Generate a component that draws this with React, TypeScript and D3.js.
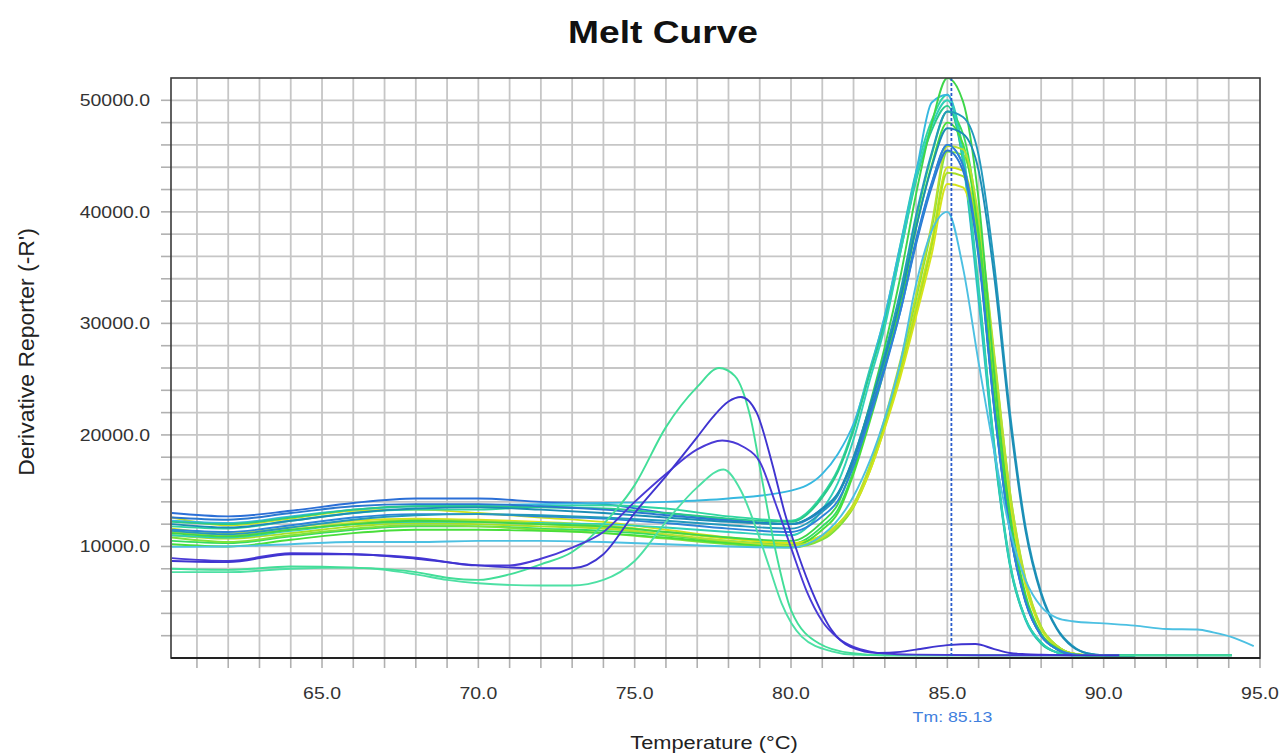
import React, { useEffect, useRef } from 'react';
import * as d3 from 'd3';

// temperature grid shared by the main-product wells (deg C)
const temps = [60.2, 62, 64, 66, 68, 70, 72, 74, 76, 78, 80, 81, 81.5, 82, 82.5, 83, 83.5, 84, 84.5, 85,
  85.5, 86, 86.5, 87, 87.5, 88, 88.5, 89, 89.5, 90, 91, 94.1];

// -R' per well (null = trace already ended)
const wellA1 = [13000, 12700, 13200, 13900, 14300, 14300, 14000, 13800, 13000, 12400, 12000,
  13400, 14700, 17800, 21900, 26300, 31400, 37500, 42600, 46000,
  44200, 36300, 22500, 11500, 5100, 2000, 800, 350, 250, 250, 250, null];
const wellA2 = [12600, 11900, 12500, 13200, 13300, 13000, 12600, 12200, 11500, 10800, 10300,
  11000, 12000, 13800, 16900, 21100, 25900, 31500, 37400, 44000,
  43700, 37800, 26100, 14400, 6800, 2700, 1100, 400, 250, 250, 250, null];
const wellA3 = [11200, 10900, 11500, 12000, 12300, 12200, 12000, 11800, 11300, 10800, 10500,
  12200, 13800, 17600, 22500, 27900, 34200, 41600, 47900, 52000,
  49900, 41100, 25500, 13000, 5700, 2200, 900, 350, 250, 250, 250, 250];
const wellA4 = [11800, 11600, 12300, 13000, 13300, 13300, 13600, 13700, 13400, 12700, 12300,
  14600, 16900, 20700, 25700, 30600, 37100, 43600, 48200, 50500,
  45500, 33300, 19200, 8600, 3500, 1400, 500, 250, 250, 250, 250, null];
const wellA5 = [11000, 10700, 11200, 11800, 12100, 12000, 11800, 11600, 11000, 10400, 10000,
  10700, 11700, 13500, 16600, 20700, 25500, 31000, 36900, 43500,
  43200, 37400, 25800, 14200, 6700, 2700, 1100, 400, 250, 250, 250, null];
const wellA6 = [12000, 11700, 12300, 13000, 13400, 13500, 13300, 13000, 12600, 12200, 12000,
  13400, 14800, 18000, 22300, 26900, 32200, 38600, 44000, 47500,
  47000, 43700, 34200, 21400, 11400, 5700, 2600, 1000, 400, 250, 250, null];
const wellB1 = [11400, 11100, 11700, 12400, 12800, 12900, 12800, 12600, 12300, 11900, 11600,
  13100, 14600, 18000, 22400, 27300, 32900, 39700, 45300, 49000,
  48500, 45100, 35300, 22100, 11800, 5900, 2700, 1100, 400, 250, 250, null];
const wellB2 = [10500, 10300, 10900, 11500, 11800, 11800, 11600, 11400, 11000, 10500, 10200,
  11800, 13300, 16800, 21500, 26500, 32300, 39300, 45100, 49000,
  47000, 38700, 24000, 12300, 5400, 2100, 800, 300, 250, 250, 250, null];
const wellB3 = [10800, 10400, 11000, 11600, 11900, 11800, 11500, 11200, 10700, 10200, 9900,
  10600, 11700, 13600, 16900, 21200, 26400, 32200, 38500, 45400,
  45100, 39100, 27000, 14900, 7000, 2800, 1100, 400, 250, 250, 250, null];
const wellB4 = [12300, 12100, 12700, 13300, 13600, 13700, 13800, 13900, 14000, 14300, 15000,
  16500, 18300, 21000, 25500, 30700, 37000, 43500, 49800, 50500,
  44500, 32000, 18500, 8300, 3400, 1300, 500, 250, 250, 250, 250, null];
const wellB5 = [11500, 11300, 11900, 12600, 12900, 12900, 12700, 12500, 12100, 11600, 11300,
  12700, 14100, 17200, 21400, 25900, 31100, 37300, 42500, 46000,
  44200, 36300, 22500, 11500, 5100, 2000, 800, 350, 250, 250, 250, 250];
const wellB6 = [12200, 12000, 12600, 13300, 13600, 13600, 13500, 13400, 13000, 12500, 12200,
  14400, 16700, 20400, 25300, 30100, 36400, 42800, 47300, 49500,
  44600, 32700, 18800, 8400, 3500, 1300, 500, 250, 250, 250, 250, null];
const wellC1 = [11600, 11200, 11700, 12300, 12500, 12400, 12200, 11900, 11300, 10700, 10300,
  11000, 12000, 13600, 16600, 20600, 25200, 30600, 36200, 42500,
  42200, 36500, 25200, 13900, 6500, 2600, 1000, 400, 250, 250, 250, null];
const wellC2 = [10200, 10000, 10600, 11200, 11500, 11500, 11400, 11200, 10800, 10300, 10000,
  11500, 13000, 16500, 21000, 26000, 31700, 38500, 44200, 48000,
  46100, 37900, 23500, 12000, 5300, 2100, 800, 300, 250, 250, 250, null];
const wellC3 = [11000, 10800, 11400, 12000, 12200, 12200, 12100, 12000, 11700, 11300, 11000,
  13300, 15700, 19600, 24700, 29700, 36400, 43000, 47700, 50000,
  45000, 33000, 19000, 8500, 3500, 1400, 500, 250, 250, 250, 250, null];
const wellC4 = [12600, 12400, 13000, 13600, 13800, 13800, 13600, 13300, 12800, 12300, 12000,
  13300, 14700, 17700, 21700, 26100, 31100, 37100, 42200, 45500,
  43700, 35900, 22300, 11400, 5000, 2000, 800, 300, 250, 250, 250, null];
const wellC5 = [11300, 11000, 11500, 12100, 12400, 12300, 12000, 11700, 11100, 10500, 10100,
  10800, 11900, 13800, 17100, 21500, 26700, 32600, 38900, 45900,
  45600, 39500, 27300, 15000, 7100, 2800, 1100, 400, 250, 250, 250, null];

const mainWells = [
  { id: 'A1', color: '#2b6fd6', values: wellA1 },
  { id: 'A2', color: '#cfe01c', values: wellA2 },
  { id: 'A4', color: '#2fd6a0', values: wellA4 },
  { id: 'A5', color: '#a6e024', values: wellA5 },
  { id: 'B4', color: '#36b8e0', values: wellB4 },
  { id: 'B2', color: '#35dc60', values: wellB2 },
  { id: 'B3', color: '#7ee23a', values: wellB3 },
  { id: 'B6', color: '#29c98a', values: wellB6 },
  { id: 'C1', color: '#d6e31a', values: wellC1 },
  { id: 'C3', color: '#30d0b8', values: wellC3 },
  { id: 'C2', color: '#48de3a', values: wellC2 },
  { id: 'C5', color: '#b8e030', values: wellC5 },
  { id: 'A3', color: '#3ed64a', values: wellA3 },
  { id: 'C4', color: '#2a78d0', values: wellC4 },
  { id: 'B5', color: '#2c84d8', values: wellB5 },
  { id: 'B1', color: '#2399bd', values: wellB1 },
  { id: 'A6', color: '#1b8db5', values: wellA6 },
];

// wells read as [temperature, -R'] pairs
const tailWell = [[60.2, 9960], [62, 10000], [64, 10200], [66, 10400], [68, 10400], [70, 10500], [72, 10500],
  [74, 10400], [76, 10200], [78, 10000], [80, 9900], [81, 11000], [82, 14500], [83, 21500], [83.5, 26500],
  [84, 33500], [84.5, 38300], [85, 40000], [85.5, 35000], [86, 26500], [86.5, 18500], [87, 11500], [87.5, 7000],
  [88, 4600], [88.5, 3600], [89, 3300], [90, 3100], [91, 2900], [92, 2600], [93, 2550], [93.5, 2300],
  [94.1, 1880], [94.8, 1070]];

const violetLow = [[60.2, 8950], [62, 8700], [64, 9400], [66, 9300], [68, 9000], [70, 8300], [71, 8300],
  [72, 8900], [73, 9900], [74, 11300], [75, 14000], [76, 16500], [77, 18700], [77.8, 19500], [78.5, 18900],
  [79, 17600], [79.5, 13900], [80, 9900], [80.5, 6000], [81, 3300], [81.5, 1800], [82, 1000], [82.5, 600],
  [83, 400], [84, 300], [86, 250], [89, 250]];
const violetTall = [[60.2, 8700], [62, 8600], [64, 9300], [66, 9300], [68, 8900], [70, 8300], [72, 8050],
  [73, 8050], [74, 9300], [75, 13000], [76, 16300], [77, 19800], [77.5, 21600], [78, 23000], [78.4, 23400],
  [78.9, 22000], [79.4, 17400], [79.8, 13000], [80.25, 9100], [80.7, 5800], [81.3, 2500], [81.9, 1000],
  [82.8, 450], [83.5, 550], [84, 750], [85, 1150], [85.9, 1250], [86.5, 800], [87, 450], [87.5, 350],
  [88, 300], [89, 250], [90.5, 250]];
const greenTall = [[60.2, 8000], [62, 7900], [64, 8200], [66, 8100], [68, 7700], [69, 7200], [70, 7000],
  [71, 7500], [72, 8400], [73, 9500], [74, 12000], [75, 15500], [76, 20700], [77, 24300], [77.7, 26000],
  [78.2, 25300], [78.7, 21600], [79.1, 15600], [79.5, 9700], [80, 4300], [80.9, 1300], [81.9, 450],
  [83, 250], [94.1, 250]];
const greenLow = [[60.2, 7700], [62, 7700], [64, 8000], [66, 8100], [68, 7500], [69, 7000], [70, 6700],
  [72, 6500], [73, 6500], [74, 7000], [75, 8700], [76, 12200], [77, 15300], [77.84, 16900], [78.4, 15000],
  [78.9, 11500], [79.3, 8200], [79.7, 4900], [80.35, 1900], [81.3, 600], [82, 300], [83, 250], [90, 250]];

const pairWells = [
  { id: 'D1', color: '#4cc0e2', points: tailWell },
  { id: 'D2', color: '#4de0a4', points: greenLow },
  { id: 'D3', color: '#42de98', points: greenTall },
  { id: 'D4', color: '#4a3ad6', points: violetLow },
  { id: 'D5', color: '#3f34d0', points: violetTall },
];

const xTicks = [65, 70, 75, 80, 85, 90, 95];
const yTicks = [10000, 20000, 30000, 40000, 50000];
const tm = 85.13;

const FONT = 'Liberation Sans, Arial, Helvetica, sans-serif';
const SX = 1.18; // text in the source image is a little wider than tall

const App = () => {
  const svgRef = useRef(null);

  useEffect(() => {
    drawChart();
  }, []);

  const drawChart = () => {
    const svg = d3.select(svgRef.current);
    svg.selectAll('*').remove();

    const left = 171, right = 1260, top = 78, bottom = 658;
    const x = d3.scaleLinear().domain([60.17, 95]).range([left, right]);
    const y = d3.scaleLinear().domain([0, 52000]).range([bottom, top]);

    svg.append('rect').attr('width', 1287).attr('height', 755).attr('fill', '#ffffff');

    // grid
    const grid = svg.append('g').attr('stroke', '#c6c6c6').attr('stroke-width', 1.8);
    d3.range(61, 95).forEach(t => {
      grid.append('line').attr('x1', x(t)).attr('x2', x(t)).attr('y1', top).attr('y2', bottom);
    });
    d3.range(2000, 52000, 2000).forEach(v => {
      grid.append('line').attr('x1', left).attr('x2', right).attr('y1', y(v)).attr('y2', y(v));
    });

    // tick marks
    const ticks = svg.append('g').attr('stroke', '#b0b0b0').attr('stroke-width', 1.6);
    d3.range(61, 96).forEach(t => {
      ticks.append('line').attr('x1', x(t)).attr('x2', x(t)).attr('y1', bottom).attr('y2', bottom + 10);
    });
    d3.range(2000, 52000, 2000).forEach(v => {
      ticks.append('line').attr('x1', left - 10).attr('x2', left).attr('y1', y(v)).attr('y2', y(v));
    });

    svg.append('clipPath').attr('id', 'plot-clip')
      .append('rect').attr('x', left).attr('y', top).attr('width', right - left).attr('height', bottom - top);

    const line = d3.line()
      .defined(d => d[1] != null)
      .x(d => x(d[0]))
      .y(d => y(d[1]))
      .curve(d3.curveMonotoneX);

    const curves = svg.append('g').attr('clip-path', 'url(#plot-clip)')
      .attr('fill', 'none').attr('stroke-width', 1.9).attr('stroke-linejoin', 'round');

    mainWells.forEach(w => {
      curves.append('path')
        .attr('d', line(temps.map((t, i) => [t, w.values[i]])))
        .attr('stroke', w.color);
    });
    pairWells.forEach(w => {
      curves.append('path').attr('d', line(w.points)).attr('stroke', w.color);
    });

    // Tm marker
    svg.append('line')
      .attr('x1', x(tm)).attr('x2', x(tm)).attr('y1', top).attr('y2', bottom)
      .attr('stroke', '#2a5ccc').attr('stroke-width', 1.8).attr('stroke-dasharray', '3,2');

    // frame
    svg.append('rect')
      .attr('x', left).attr('y', top).attr('width', right - left).attr('height', bottom - top)
      .attr('fill', 'none').attr('stroke', '#3a3a3a').attr('stroke-width', 1.6);
    svg.append('line').attr('x1', left).attr('x2', right).attr('y1', bottom).attr('y2', bottom)
      .attr('stroke', '#222').attr('stroke-width', 2.2);

    const text = (str, tx, ty, size, opts = {}) => {
      const sy = opts.sy || 1;
      return svg.append('text')
        .attr('transform', `translate(${tx},${ty}) scale(${SX},${sy})${opts.rotate ? ' rotate(-90)' : ''}`)
        .attr('text-anchor', opts.anchor || 'middle')
        .attr('font-family', FONT)
        .attr('font-size', size)
        .attr('font-weight', opts.bold ? 'bold' : 'normal')
        .attr('fill', opts.fill || '#222')
        .text(str);
    };

    yTicks.forEach(v => text(d3.format('.1f')(v), 150, y(v) + 6, 16.5, { anchor: 'end', fill: '#333' }));
    xTicks.forEach(t => text(d3.format('.1f')(t), x(t), 699, 16.5, { fill: '#333' }));

    text('Tm: 85.13', x(tm) + 1, 722, 15, { fill: '#3f80de' });
    text('Melt Curve', 663, 43, 31.5, { bold: true, fill: '#111' });
    text('Temperature (°C)', 714, 749, 18.5, { fill: '#222' });
    text("Derivative Reporter (-R')", 34, 352, 18.5, { rotate: true, sy: 1.24, fill: '#222' });
  };

  return (
    <svg ref={svgRef} width={1287} height={755}
      style={{ position: 'absolute', left: 0, top: 0, display: 'block' }} />
  );
};

export default App;
